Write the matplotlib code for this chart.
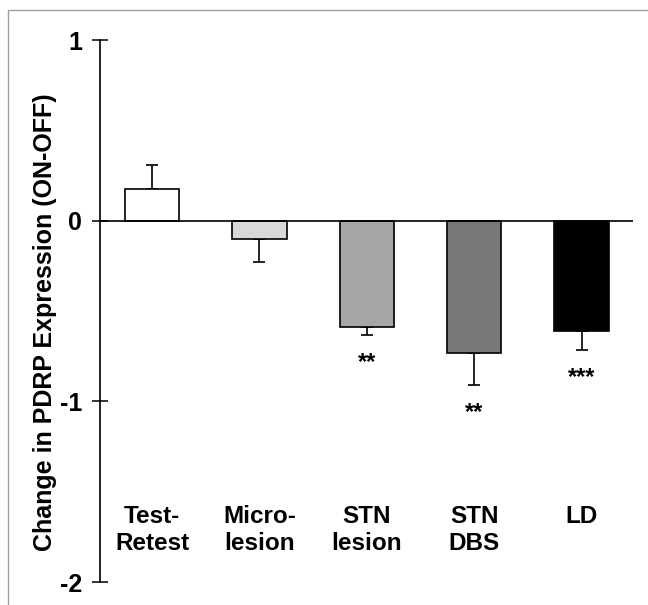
import matplotlib
matplotlib.use("Agg")
import matplotlib.pyplot as plt
from matplotlib.patches import Rectangle
import numpy as np

categories = ["Test-\nRetest", "Micro-\nlesion", "STN\nlesion", "STN\nDBS", "LD"]
means = [0.174, -0.102, -0.591, -0.730, -0.610]
errors = [0.133, 0.126, 0.043, 0.180, 0.107]
colors = ["#ffffff", "#d9d9d9", "#a6a6a6", "#787878", "#000000"]
stars = ["", "", "**", "**", "***"]
yticks = [1, 0, -1, -2]
ylabel = "Change in PDRP Expression (ON-OFF)"

plt.rcParams['font.family'] = ['Liberation Sans', 'DejaVu Sans']
plt.rcParams['font.weight'] = 'bold'

W, H = 648, 605
fig = plt.figure(figsize=(W / 100, H / 100), dpi=100)

# light gray frame (top/left visible)
fig.add_artist(Rectangle((8 / W, -0.05), 1.2, (H - 10) / H + 0.05, transform=fig.transFigure,
                         fill=False, edgecolor="#a0a0a0", linewidth=1.0))

ax_left, ax_right = 100, 633
ax_top, ax_bot = 40, 582
ax = fig.add_axes([ax_left / W, 1 - ax_bot / H, (ax_right - ax_left) / W, (ax_bot - ax_top) / H])

x = np.arange(len(categories))
lower = [e if m < 0 else 0 for m, e in zip(means, errors)]
upper = [e if m >= 0 else 0 for m, e in zip(means, errors)]
ax.bar(x, means, width=0.507, color=colors, edgecolor="black", linewidth=1.2, zorder=2)
ax.errorbar(x, means, yerr=[lower, upper], fmt="none", ecolor="black",
            elinewidth=1.2, capsize=4.5, capthick=1.2, zorder=1)
ax.axhline(0, color="black", linewidth=1.2, zorder=3)

for xi, m, e, s in zip(x, means, errors, stars):
    if s:
        ax.text(xi, m - e - 0.14, s, ha="center", va="center_baseline", fontsize=17,
                fontweight="bold")

for xi, c in zip(x, categories):
    ax.text(xi, -1.575, c, ha="center", va="top", fontsize=17.5, fontweight="bold",
            linespacing=1.2)

ax.set_xlim(-0.484, 4.478)
ax.set_ylim(-2, 1)
ax.set_yticks(yticks)
ax.set_yticklabels([str(t) for t in yticks], fontsize=18, fontweight="bold")
ax.tick_params(axis="y", direction="inout", length=11.5, width=1.1, pad=7)
ax.set_xticks([])
for sp in ["top", "right", "bottom"]:
    ax.spines[sp].set_visible(False)
ax.spines["left"].set_linewidth(1.2)

fig.text(45 / W, 1 - 322 / H, ylabel, rotation=90, ha="center", va="center",
         fontsize=18, fontweight="bold")

fig.savefig("out.png", dpi=100)
